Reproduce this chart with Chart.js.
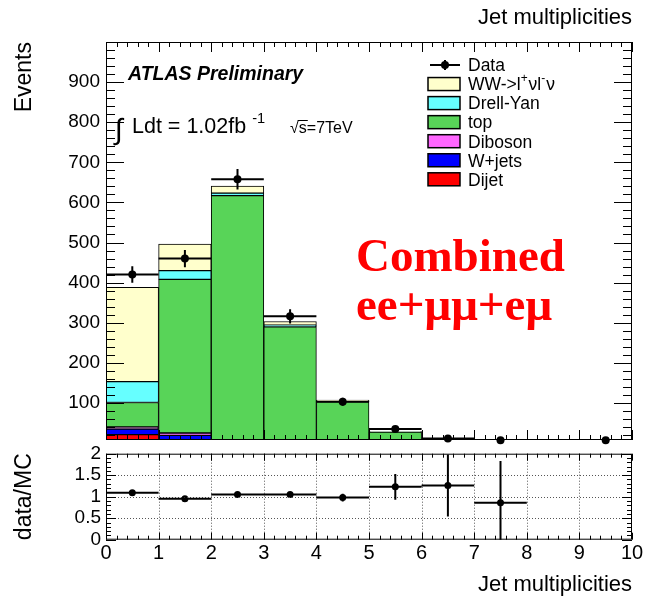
<!DOCTYPE html>
<html>
<head>
<meta charset="utf-8">
<title>Jet multiplicities</title>
<script src="https://cdn.jsdelivr.net/npm/chart.js@4.4.1/dist/chart.umd.min.js"></script>
<style>
  html, body { margin: 0; padding: 0; background: #fff; }
  #wrap { position: relative; width: 650px; height: 600px; }
  #main { position: absolute; left: 0; top: 0; }
  #ratio { position: absolute; left: 0; top: 440px; }
</style>
</head>
<body>
<div id="wrap">
  <canvas id="main" width="650" height="450"></canvas>
  <canvas id="ratio" width="650" height="160"></canvas>
</div>
<script>
// ---- data: events per jet-multiplicity bin (bins 0..9) ----
const jetBins   = [0, 1, 2, 3, 4, 5, 6, 7, 8, 9];
const dijet     = [21, 3, 0, 0, 0, 0, 0, 0, 0, 0];
const wJets     = [14, 16, 3, 1, 0, 0, 0, 0, 0, 0];
const diboson   = [5, 6, 5, 3, 1, 0.3, 0.1, 0, 0, 0];
const topQuark  = [61, 383, 609, 286, 102, 27, 9, 7.5, 0, 0];
const drellYan  = [52, 22, 6, 4, 1, 0.5, 0.1, 0.2, 0, 0];
const wwLvLv    = [235, 66, 18, 9, 3, 0.7, 0.1, 0.1, 0, 0];
const dataCounts = [420, 460, 658, 316, 103, 35, 11.5, 7, null, 7];
const dataErrors = [20.5, 21.4, 25.6, 17.8, 10.1, 5.9, 3.4, null, null, null];
const ratioValues = [1.09, 0.95, 1.05, 1.05, 0.98, 1.23, 1.26, 0.86, null, null];
const ratioErrors = [0.05, 0.03, 0.03, 0.04, 0.09, 0.30, 0.72, 0.97, null, null];

// ---- axis tick labels ----
const jetTicks    = [0, 1, 2, 3, 4, 5, 6, 7, 8, 9, 10];
const eventTicks  = [100, 200, 300, 400, 500, 600, 700, 800, 900];
const ratioTicks  = [0, 0.5, 1, 1.5, 2];

const FONT = "'Liberation Sans', Arial, Helvetica, sans-serif";
const SERIF = "'Liberation Serif', 'Times New Roman', serif";
Chart.defaults.font.family = FONT;
Chart.defaults.color = '#000';

// superscript characters are drawn raised and smaller
const SUP = { '\u207A': '+', '\u207B': '-', '\u00B9': '1' };
function drawRich(ctx, text, x, y, size, style) {
  let cx = x;
  const parts = text.match(/[\u207A\u207B\u00B9]+|[^\u207A\u207B\u00B9]+/g) || [];
  for (const seg of parts) {
    const sup = SUP[seg[0]] !== undefined;
    const s = sup ? [...seg].map(c => SUP[c]).join('') : seg;
    ctx.font = `${style || ''} ${sup ? size * 0.68 : size}px ${FONT}`;
    ctx.fillText(s, cx, sup ? y - size * 0.45 : y);
    cx += ctx.measureText(s).width + (sup ? 1 : 0);
  }
  return cx;
}

// inward major/minor ticks on all four sides plus the frame (ROOT style)
const rootFrame = {
  id: 'rootFrame',
  afterDatasetsDraw(chart, args, o) {
    const { ctx, chartArea: a, scales: { x, y } } = chart;
    const each = (scale, step, every, cb) => {
      const k0 = Math.ceil(scale.min / step - 1e-9), k1 = Math.floor(scale.max / step + 1e-9);
      for (let k = k0; k <= k1; k++) cb(scale.getPixelForValue(k * step), k % every === 0, k);
    };
    ctx.save();
    if (o.grid) {
      ctx.strokeStyle = '#555';
      ctx.lineWidth = 1;
      ctx.setLineDash([1, 2]);
      ctx.beginPath();
      each(x, o.xStep, o.xEvery, (p, major) => {
        if (!major || p <= a.left + 1 || p >= a.right - 1) return;
        const px = Math.round(p) + 0.5;
        ctx.moveTo(px, a.top); ctx.lineTo(px, a.bottom);
      });
      each(y, o.yStep, o.yEvery, (p, major) => {
        if (!major || p <= a.top + 1 || p >= a.bottom - 1) return;
        const py = Math.round(p) + 0.5;
        ctx.moveTo(a.left, py); ctx.lineTo(a.right, py);
      });
      ctx.stroke();
      ctx.setLineDash([]);
    }
    ctx.strokeStyle = '#000';
    ctx.lineWidth = 1;
    ctx.beginPath();
    each(x, o.xStep, o.xEvery, (p, major) => {
      const L = major ? o.xLen[0] : o.xLen[1];
      const px = Math.round(p) + 0.5;
      ctx.moveTo(px, a.bottom); ctx.lineTo(px, a.bottom - L);
      ctx.moveTo(px, a.top); ctx.lineTo(px, a.top + L);
    });
    each(y, o.yStep, o.yEvery, (p, major) => {
      const L = major ? o.yLen[0] : o.yLen[1];
      const py = Math.round(p) + 0.5;
      ctx.moveTo(a.left, py); ctx.lineTo(a.left + L, py);
      ctx.moveTo(a.right, py); ctx.lineTo(a.right - L, py);
    });
    ctx.stroke();
    ctx.strokeRect(a.left + 0.5, a.top + 0.5, a.width - 1, a.height - 1);
    ctx.restore();
  }
};

// horizontal (bin width) and vertical (stat.) error bars for point datasets
const errorBars = {
  id: 'errorBars',
  afterDatasetsDraw(chart) {
    const { ctx, chartArea: a, scales: { x, y } } = chart;
    ctx.save();
    ctx.beginPath();
    ctx.rect(a.left, a.top, a.width, a.height);
    ctx.clip();
    ctx.strokeStyle = '#000';
    chart.data.datasets.forEach(ds => {
      if (!ds.errorBars) return;
      ctx.lineWidth = ds.errorBars.lineWidth;
      ctx.beginPath();
      ds.data.forEach(pt => {
        const py = y.getPixelForValue(pt.y);
        ctx.moveTo(x.getPixelForValue(pt.x - pt.halfWidth), py);
        ctx.lineTo(x.getPixelForValue(pt.x + pt.halfWidth), py);
        if (pt.err != null) {
          const px = x.getPixelForValue(pt.x);
          ctx.moveTo(px, y.getPixelForValue(pt.y - pt.err));
          ctx.lineTo(px, y.getPixelForValue(pt.y + pt.err));
        }
      });
      ctx.stroke();
    });
    ctx.restore();
  }
};

// legend box inside the plot
const histLegend = {
  id: 'histLegend',
  afterDraw(chart, args, o) {
    const ctx = chart.ctx;
    ctx.save();
    ctx.textAlign = 'left';
    ctx.textBaseline = 'alphabetic';
    o.order.forEach((idx, r) => {
      const ds = chart.data.datasets[idx];
      const cy = o.top + r * o.rowHeight;
      ctx.strokeStyle = '#000';
      ctx.fillStyle = '#000';
      if (ds.type === 'scatter') {
        ctx.lineWidth = 2;
        ctx.beginPath();
        ctx.moveTo(o.boxX + 2, cy); ctx.lineTo(o.boxX + o.boxW, cy);
        ctx.moveTo(o.boxX + o.boxW / 2 + 1, cy - 5); ctx.lineTo(o.boxX + o.boxW / 2 + 1, cy + 5);
        ctx.stroke();
        ctx.beginPath();
        ctx.arc(o.boxX + o.boxW / 2 + 1, cy, 4, 0, Math.PI * 2);
        ctx.fill();
      } else {
        ctx.fillStyle = ds.backgroundColor;
        ctx.fillRect(o.boxX, cy - o.boxH / 2, o.boxW, o.boxH);
        ctx.lineWidth = 1.5;
        ctx.strokeRect(o.boxX, cy - o.boxH / 2, o.boxW, o.boxH);
      }
      ctx.fillStyle = '#000';
      drawRich(ctx, ds.label, o.textX, cy + o.size * 0.36, o.size);
    });
    ctx.restore();
  }
};

// experiment label, luminosity and channel text
const plotText = {
  id: 'plotText',
  afterDraw(chart) {
    const ctx = chart.ctx;
    ctx.save();
    ctx.textAlign = 'left';
    ctx.textBaseline = 'alphabetic';
    ctx.fillStyle = '#000';
    ctx.font = `italic bold 19.5px ${FONT}`;
    ctx.fillText('ATLAS Preliminary', 128, 80);
    ctx.font = `29px ${FONT}`;
    ctx.fillText('\u222B', 115, 139);
    drawRich(ctx, 'Ldt = 1.02fb \u207B\u00B9', 132, 133, 21.5);
    ctx.font = `16px ${FONT}`;
    ctx.fillText('\u221A', 290, 133);
    const sx = 290 + ctx.measureText('\u221A').width;
    ctx.fillText('s=7TeV', sx, 133);
    const sw = ctx.measureText('s').width;
    ctx.lineWidth = 1;
    ctx.strokeStyle = '#000';
    ctx.beginPath();
    ctx.moveTo(sx - 1, 120.5); ctx.lineTo(sx + sw + 1, 120.5);
    ctx.stroke();
    ctx.fillStyle = '#ff0000';
    ctx.font = `bold 47px ${SERIF}`;
    ctx.fillText('Combined', 356, 271);
    ctx.fillText('ee+\u03BC\u03BC+e\u03BC', 356, 320);
    ctx.restore();
  }
};

// ---- stacked background histograms, bottom to top ----
const layers = [
  { label: 'Dijet',     values: dijet,    color: '#ff0000' },
  { label: 'W+jets',    values: wJets,    color: '#0000ff' },
  { label: 'Diboson',   values: diboson,  color: '#ff66ff' },
  { label: 'top',       values: topQuark, color: '#58d458' },
  { label: 'Drell-Yan', values: drellYan, color: '#66ffff' },
  { label: 'WW->l\u207A\u03BDl\u207B\u03BD', values: wwLvLv, color: '#ffffcc' }
];
const runningTotal = jetBins.map(() => 0);
const stackDatasets = layers.map(layer => ({
  type: 'bar',
  label: layer.label,
  data: jetBins.map((n, i) => {
    const lo = runningTotal[i];
    runningTotal[i] += layer.values[i];
    return { x: n + 0.5, y: [lo, runningTotal[i]] };
  }),
  backgroundColor: layer.color,
  borderColor: '#000',
  borderWidth: 1,
  borderSkipped: false,
  grouped: false,
  barPercentage: 1,
  categoryPercentage: 1,
  clip: 0,
  order: 2
}));

const dataPoints = jetBins
  .map((n, i) => ({ x: n + 0.5, y: dataCounts[i], err: dataErrors[i], halfWidth: 0.5 }))
  .filter(p => p.y !== null);

const dataDataset = {
  type: 'scatter',
  label: 'Data',
  data: dataPoints,
  pointRadius: 4,
  pointBackgroundColor: '#000',
  pointBorderWidth: 0,
  clip: 8,
  order: 0,
  errorBars: { lineWidth: 2 }
};

const fixedTicks = values => scale => { scale.ticks = values.map(v => ({ value: v })); };
const noPad = width => scale => {
  scale.width = width;
  scale.paddingTop = 0;
  scale.paddingBottom = 0;
};

new Chart(document.getElementById('main'), {
  type: 'bar',
  data: { datasets: [...stackDatasets, dataDataset] },
  options: {
    responsive: false,
    animation: false,
    events: [],
    layout: { padding: { left: 0, right: 18, top: 0, bottom: 10 } },
    plugins: {
      legend: { display: false },
      tooltip: { enabled: false },
      title: {
        display: true,
        text: 'Jet multiplicities',
        align: 'end',
        color: '#000',
        font: { size: 22, weight: 'normal', family: FONT },
        padding: { top: 5.2, bottom: 10.4 }
      },
      rootFrame: { xStep: 0.2, xEvery: 5, yStep: 20, yEvery: 5, xLen: [10, 5], yLen: [18, 9] },
      histLegend: { order: [6, 5, 4, 3, 2, 1, 0], top: 65, rowHeight: 19.05, boxX: 428, boxW: 32, boxH: 13, textX: 468, size: 17.5 }
    },
    scales: {
      x: {
        type: 'linear', min: 0, max: 10, offset: false, display: false,
        afterBuildTicks: fixedTicks(jetTicks)
      },
      y: {
        type: 'linear', min: 7.5, max: 1000,
        afterBuildTicks: fixedTicks(eventTicks),
        afterFit: noPad(106),
        grid: { display: false, drawTicks: false },
        border: { display: false },
        ticks: { font: { size: 19 }, padding: 6, autoSkip: false, callback: v => String(v) },
        title: { display: true, text: 'Events', align: 'end', font: { size: 23 }, padding: { top: 11, bottom: 0 } }
      }
    }
  },
  plugins: [rootFrame, errorBars, histLegend, plotText]
});

// ---- data / MC ratio panel ----
const ratioPoints = jetBins
  .map((n, i) => ({ x: n + 0.5, y: ratioValues[i], err: ratioErrors[i], halfWidth: 0.5 }))
  .filter(p => p.y !== null);

new Chart(document.getElementById('ratio'), {
  type: 'scatter',
  data: {
    datasets: [{
      type: 'scatter',
      label: 'data/MC',
      data: ratioPoints,
      pointRadius: 3.5,
      pointBackgroundColor: '#000',
      pointBorderWidth: 0,
      clip: 6,
      errorBars: { lineWidth: 2 }
    }]
  },
  options: {
    responsive: false,
    animation: false,
    events: [],
    layout: { padding: { left: 0, right: 18, top: 13.7, bottom: 0 } },
    plugins: {
      legend: { display: false },
      tooltip: { enabled: false },
      rootFrame: { grid: true, xStep: 0.2, xEvery: 5, yStep: 0.1, yEvery: 5, xLen: [7, 4], yLen: [10, 5] }
    },
    scales: {
      x: {
        type: 'linear', min: 0, max: 10, offset: false,
        afterBuildTicks: fixedTicks(jetTicks),
        afterFit: scale => { scale.height = 60.3; scale.paddingLeft = 0; scale.paddingRight = 0; },
        grid: { display: false, drawTicks: false },
        border: { display: false },
        ticks: { font: { size: 20 }, padding: 2, autoSkip: false, maxRotation: 0, callback: v => String(v) },
        title: { display: true, text: 'Jet multiplicities', align: 'end', font: { size: 22 }, padding: { top: 0, bottom: 2 } }
      },
      y: {
        type: 'linear', min: 0, max: 2,
        afterBuildTicks: fixedTicks(ratioTicks),
        afterFit: noPad(106),
        grid: { display: false, drawTicks: false },
        border: { display: false },
        ticks: { font: { size: 19 }, padding: 5, autoSkip: false, callback: v => String(v) },
        title: { display: true, text: 'data/MC', align: 'center', font: { size: 23 }, padding: { top: 11, bottom: 0 } }
      }
    }
  },
  plugins: [rootFrame, errorBars]
});
</script>
</body>
</html>
